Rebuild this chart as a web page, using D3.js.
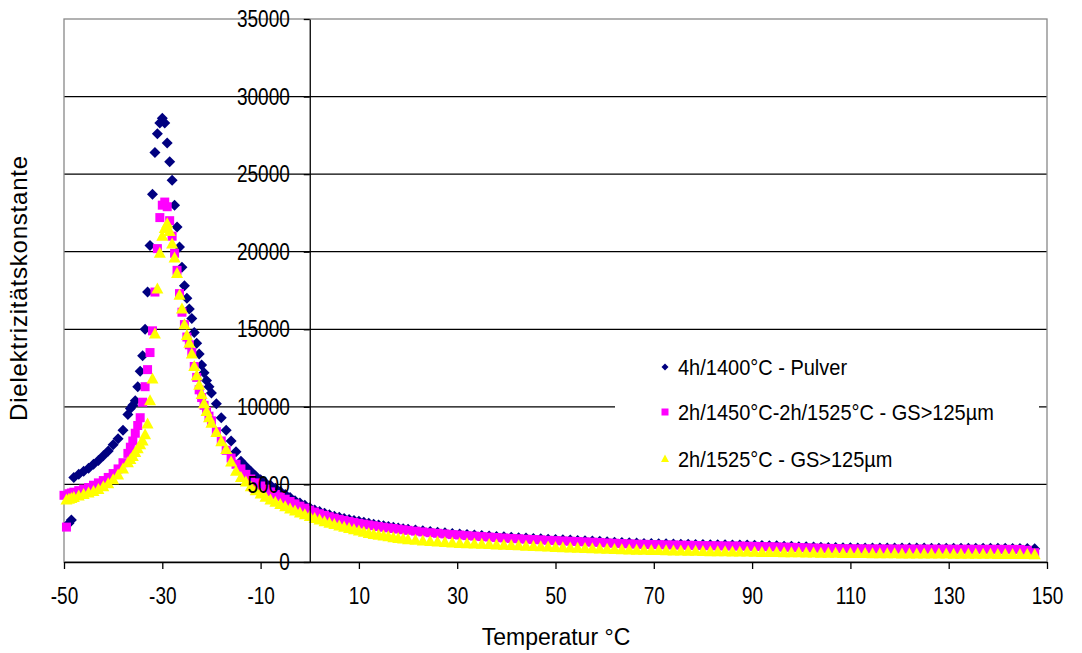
<!DOCTYPE html>
<html>
<head>
<meta charset="utf-8">
<script src="https://cdn.jsdelivr.net/npm/d3@7"></script>
<style>
  body { margin: 0; background: #fff; }
  text { font-family: "Liberation Sans", Arial, sans-serif; fill: #000; }
</style>
</head>
<body>
<script>
// temperatures (°C), shared by the three series
const temps = [
  -50, -49.5, -49, -48.5, -48, -47, -46, -45, -44, -43, -42, -41, -40, -39, -38, -37,
  -36.5, -36, -35.5, -35, -34.5, -34, -33.5, -33, -32.5, -32, -31.5, -31, -30.5, -30, -29.5, -29, -28.5, -28,
  -27.5, -27, -26.5, -26, -25.5, -25, -24.5, -24, -23.5, -23, -22.5, -22, -21.5, -21, -20.5, -20,
  -19, -18, -17, -16, -15, -14, -13, -12, -11, -10, -9, -8, -7, -6, -5, -4, -3, -2, -1, 0,
  1, 2, 3, 4, 5, 6, 7, 8, 9, 10, 11, 12, 13, 14, 15, 16, 17, 18, 19, 20,
  21.5, 23, 24.5, 26, 27.5, 29, 30.5, 32, 33.5, 35,
  36.5, 38, 39.5, 41, 42.5, 44, 45.5, 47, 48.5, 50,
  51.5, 53, 54.5, 56, 57.5, 59, 60.5, 62, 63.5, 65,
  66.5, 68, 69.5, 71, 72.5, 74, 75.5, 77, 78.5, 80,
  81.5, 83, 84.5, 86, 87.5, 89, 90.5, 92, 93.5, 95,
  96.5, 98, 99.5, 101, 102.5, 104, 105.5, 107, 108.5, 110,
  111.5, 113, 114.5, 116, 117.5, 119, 120.5, 122, 123.5, 125,
  126.5, 128, 129.5, 131, 132.5, 134, 135.5, 137, 138.5, 140,
  141.5, 143, 144.5, 146, 147.5
];

// 4h/1400°C - Pulver
const pulver = [
  null, null, 2500, 2700, 5450, 5650, 5850, 6050, 6300, 6550, 6850, 7150, 7550, 7950, 8500, 9500,
  9900, 10100, 10400, 11300, 12300, 13300, 15000, 17400, 20400, 23700, 26400, 27600, 28300, 28600, 28300, 27000, 25800, 24600,
  23000, 21600, 20300, 19000, 17800, 17000, 16300, 15700, 14800, 14100, 13400, 12700, 12200, 11700, 11300, 10900,
  10200, 9300, 8500, 7800, 7100, 6500, 6150, 5850, 5550, 5300, 5100, 4950, 4750, 4550, 4350, 4150, 3950, 3800, 3650, 3500,
  3350, 3250, 3150, 3050, 2950, 2880, 2800, 2740, 2680, 2620, 2570, 2500, 2440, 2390, 2330, 2290, 2240, 2190, 2150, 2110,
  2060, 2010, 1960, 1920, 1880, 1840, 1810, 1770, 1740, 1710,
  1680, 1650, 1620, 1590, 1570, 1540, 1520, 1500, 1470, 1450,
  1430, 1410, 1390, 1370, 1350, 1330, 1300, 1280, 1260, 1240,
  1220, 1200, 1190, 1180, 1170, 1160, 1150, 1140, 1130, 1120,
  1115, 1110, 1105, 1100, 1095, 1090, 1080, 1060, 1050, 1040,
  1020, 1010, 990, 980, 960, 950, 940, 930, 920, 915,
  910, 910, 905, 905, 900, 900, 900, 895, 895, 895,
  890, 890, 890, 885, 885, 885, 880, 880, 880, 880,
  880, 875, 875, 870, 860
];

// 2h/1450°C-2h/1525°C - GS>125µm
const gs1450 = [
  4300, 2250, 4400, 4450, 4500, 4600, 4700, 4800, 4950, 5100, 5250, 5450, 5700, 6000, 6400, 7000,
  7400, 7800, 8300, 8800, 9300, 10300, 11300, 12400, 13500, 14900, 17400, 20200, 22200, 23000, 23200, 22900, 22000, 21000,
  19900, 18800, 17300, 16100, 15300, 14500, 14000, 13500, 12600, 11900, 11100, 10600, 10100, 9700, 9400, 9100,
  8400, 7800, 7200, 6700, 6300, 6000, 5650, 5350, 5100, 4900, 4700, 4520, 4350, 4200, 4050, 3900, 3750, 3600, 3470, 3340,
  3220, 3110, 3010, 2920, 2830, 2750, 2680, 2610, 2550, 2490, 2440, 2390, 2340, 2290, 2240, 2200, 2160, 2120, 2080, 2040,
  1990, 1940, 1890, 1850, 1810, 1770, 1740, 1700, 1670, 1640,
  1610, 1580, 1550, 1520, 1500, 1470, 1450, 1430, 1400, 1380,
  1360, 1340, 1320, 1300, 1280, 1260, 1230, 1210, 1190, 1170,
  1150, 1140, 1130, 1120, 1110, 1100, 1090, 1080, 1070, 1060,
  1050, 1045, 1040, 1035, 1030, 1020, 1010, 995, 985, 975,
  960, 950, 935, 920, 905, 895, 880, 870, 860, 855,
  850, 850, 845, 845, 840, 840, 840, 835, 835, 835,
  830, 830, 830, 825, 825, 825, 820, 820, 820, 820,
  815, 815, 810, 760, 600
];

// 2h/1525°C - GS>125µm
const gs1525 = [
  null, 4000, 4050, 4100, 4150, 4250, 4350, 4450, 4550, 4680, 4850, 5050, 5300, 5600, 6000, 6400,
  6600, 6800, 7050, 7300, 7550, 7800, 8200, 8900, 10400, 11800, 14700, 17600, 19900, 21000, 21500, 21800, 21300, 20500,
  19600, 18600, 17200, 16300, 15300, 14600, 14100, 13400, 12600, 12000, 11400, 10800, 10200, 9700, 9300, 8950,
  8350, 7750, 7250, 6450, 5850, 5450, 5150, 4850, 4600, 4380, 4180, 4000, 3850, 3700, 3560, 3420, 3290, 3160, 3040, 2930,
  2800, 2700, 2600, 2500, 2410, 2320, 2240, 2160, 2080, 2000, 1920, 1840, 1780, 1720, 1670, 1620, 1570, 1520, 1480, 1440,
  1400, 1360, 1320, 1290, 1260, 1230, 1200, 1180, 1160, 1140,
  1120, 1100, 1080, 1060, 1040, 1020, 1000, 980, 960, 940,
  920, 900, 885, 870, 855, 840, 825, 810, 795, 780,
  765, 755, 745, 735, 725, 715, 705, 695, 685, 675,
  665, 660, 655, 650, 645, 640, 630, 620, 615, 610,
  600, 595, 590, 580, 575, 570, 565, 560, 555, 550,
  545, 540, 535, 530, 528, 525, 522, 520, 518, 515,
  512, 510, 508, 505, 502, 500, 498, 495, 492, 490,
  488, 485, 482, 480, 470
];

const seriesNames = ["4h/1400°C - Pulver", "2h/1450°C-2h/1525°C - GS>125µm", "2h/1525°C - GS>125µm"];
const seriesColors = ["#000080", "#ff00ff", "#ffff00"];
const xTicks = [-50, -30, -10, 10, 30, 50, 70, 90, 110, 130, 150];
const yTicks = [0, 5000, 10000, 15000, 20000, 25000, 30000, 35000];

const width = 1082, height = 653;
const plot = {left: 64, right: 1047, top: 19, bottom: 562};
const fontFam = "'Liberation Sans', Arial, sans-serif";

const svg = d3.select("body").append("svg")
              .attr("width", width)
              .attr("height", height);

svg.append("rect").attr("width", width).attr("height", height).attr("fill", "#fff");

const x = d3.scaleLinear().domain([-50, 150]).range([plot.left, plot.right]);
const y = d3.scaleLinear().domain([0, 35000]).range([plot.bottom, plot.top]);

// gridlines
svg.append("g")
   .selectAll("line")
   .data(yTicks.filter(d => d > 0 && d < 35000))
   .join("line")
   .attr("x1", plot.left).attr("x2", plot.right)
   .attr("y1", d => y(d)).attr("y2", d => y(d))
   .attr("stroke", "#000").attr("stroke-width", 1.3);

// plot border (grey)
svg.append("rect")
   .attr("x", plot.left).attr("y", plot.top)
   .attr("width", plot.right - plot.left).attr("height", plot.bottom - plot.top)
   .attr("fill", "none").attr("stroke", "#888").attr("stroke-width", 1.3);

// markers
const shapes = [
  "M0,-5.5L5.5,0L0,5.5L-5.5,0Z",
  "M-4.5,-4.5L4.5,-4.5L4.5,4.5L-4.5,4.5Z",
  "M0,-6.5L6,4.5L-6,4.5Z"
];
const legendShapes = [
  "M0,-3.5L3.5,0L0,3.5L-3.5,0Z",
  "M-3.5,-3.5L3.5,-3.5L3.5,3.5L-3.5,3.5Z",
  "M0,-4.5L4,3L-4,3Z"
];

[pulver, gs1450, gs1525].forEach((vals, s) => {
  const pts = temps.map((t, i) => ({t: t, v: vals[i]})).filter(d => d.v != null);
  svg.append("g")
     .selectAll("path")
     .data(pts)
     .join("path")
     .attr("d", shapes[s])
     .attr("transform", d => "translate(" + x(d.t) + "," + y(d.v) + ")")
     .attr("fill", seriesColors[s]);
});

// x axis at the bottom
const xAxis = svg.append("g")
   .attr("transform", "translate(0," + plot.bottom + ")")
   .call(d3.axisBottom(x).tickValues(xTicks).tickSize(7).tickSizeOuter(0).tickPadding(13).tickFormat(d => String(d)));
xAxis.selectAll("text").attr("font-size", 19).style("font-family", fontFam)
     .attr("transform", "scale(1,1.25)");
xAxis.selectAll("line, path").attr("stroke", "#000").attr("stroke-width", 1.3);

// y axis crossing at x = 0
const yAxis = svg.append("g")
   .attr("transform", "translate(" + x(0) + ",0)")
   .call(d3.axisLeft(y).tickValues(yTicks).tickSize(6).tickSizeOuter(0).tickPadding(14).tickFormat(d => String(d)));
yAxis.selectAll("text").attr("font-size", 19).style("font-family", fontFam)
     .attr("transform", "scale(1,1.25)");
yAxis.selectAll("line, path").attr("stroke", "#000").attr("stroke-width", 1.3);

// legend
const legend = svg.append("g");
legend.append("rect")
      .attr("x", 615).attr("y", 338).attr("width", 424).attr("height", 144)
      .attr("fill", "#fff");
const legendY = [367, 412, 459];
seriesNames.forEach((name, i) => {
  legend.append("path")
        .attr("d", legendShapes[i])
        .attr("transform", "translate(665," + legendY[i] + ")")
        .attr("fill", seriesColors[i]);
  legend.append("text")
        .attr("transform", "translate(678," + (legendY[i] + 8) + ") scale(1,1.12)")
        .attr("font-size", 20)
        .text(name);
});

// axis titles
svg.append("text")
   .attr("x", 556).attr("y", 645)
   .attr("text-anchor", "middle")
   .attr("font-size", 23)
   .text("Temperatur °C");

svg.append("text")
   .attr("transform", "translate(27,288) rotate(-90)")
   .attr("text-anchor", "middle")
   .attr("font-size", 24)
   .attr("letter-spacing", 0.8)
   .text("Dielektrizitätskonstante");
</script>
</body>
</html>
